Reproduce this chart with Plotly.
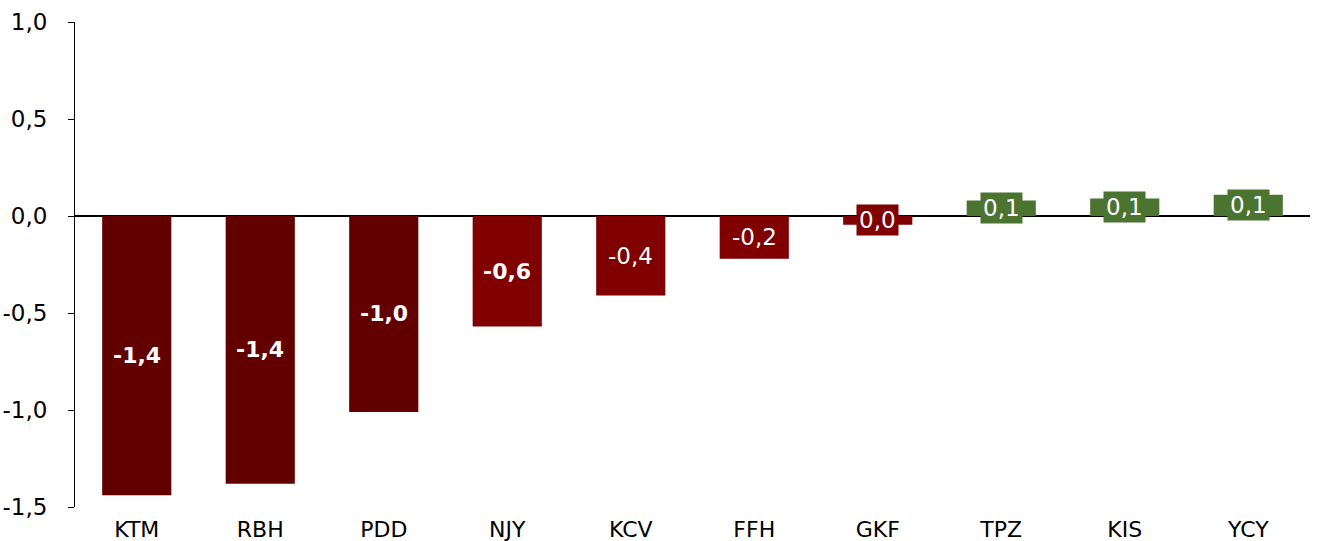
import plotly.graph_objects as go

categories = ["KTM", "RBH", "PDD", "NJY", "KCV", "FFH", "GKF", "TPZ", "KIS", "YCY"]
values = [-1.44, -1.38, -1.01, -0.57, -0.41, -0.22, -0.045, 0.08, 0.09, 0.11]
labels = ["-1,4", "-1,4", "-1,0", "-0,6", "-0,4", "-0,2", "0,0", "0,1", "0,1", "0,1"]
bold = [True, True, True, True, False, False, False, False, False, False]
colors = ["#620000", "#620000", "#620000", "#800000", "#800000", "#800000",
          "#800000", "#4b7431", "#4b7431", "#4b7431"]
y_tickvals = [-1.5, -1.0, -0.5, 0.0, 0.5, 1.0]
y_ticktext = ["-1,5", "-1,0", "-0,5", "0,0", "0,5", "1,0"]

FONT = "Tahoma, 'DejaVu Sans', sans-serif"

fig = go.Figure()
fig.add_trace(go.Bar(
    x=categories, y=values,
    marker=dict(color=colors, line=dict(width=0)),
    hoverinfo="x+y",
))

for c, v, t, b, col in zip(categories, values, labels, bold, colors):
    fig.add_annotation(
        x=c, y=v / 2, xref="x", yref="y",
        text=f"<b>{t}</b>" if b else t,
        showarrow=False,
        font=dict(family=FONT, size=22 if b else 23, color="white"),
        bgcolor=col, borderpad=2,
    )

fig.update_layout(
    width=1318, height=541,
    margin=dict(l=75, r=8, t=22, b=34, autoexpand=False),
    plot_bgcolor="white", paper_bgcolor="white",
    bargap=0.44,
    showlegend=False,
    font=dict(family=FONT, size=23, color="black"),
)
fig.update_yaxes(
    range=[-1.5, 1.0], tickvals=y_tickvals, ticktext=y_ticktext,
    showgrid=False, showline=True, linecolor="black", linewidth=1,
    ticks="outside", ticklen=6, tickcolor="black",
    ticklabelstandoff=16, automargin=False,
    zeroline=True, zerolinecolor="black", zerolinewidth=1.5,
    tickfont=dict(size=23),
)
fig.update_xaxes(
    showgrid=False, showline=False, ticks="",
    ticklabelstandoff=7, automargin=False,
    tickfont=dict(size=22),
)

fig.write_html("out.html", config={"displayModeBar": False},
               post_script="document.body.style.margin='0';")
